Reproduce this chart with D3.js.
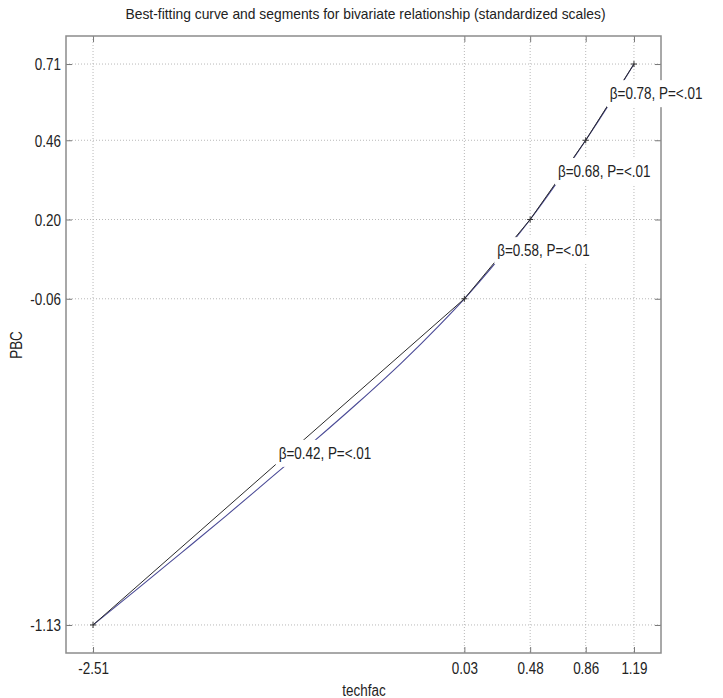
<!DOCTYPE html>
<html>
<head>
<meta charset="utf-8">
<script src="https://d3js.org/d3.v7.min.js"></script>
<style>
  body { margin: 0; background: white; }
  text { font-family: 'Liberation Sans', Arial, sans-serif; fill: #222; }
  .grid line { stroke: #b8b8b8; stroke-dasharray: 1,2; }
</style>
</head>
<body>
<svg id="chart"></svg>
<script>
var width = 723, height = 698;

// segment end points (also the tick values)
var xTicks = [-2.51, 0.03, 0.48, 0.86, 1.19];
var yTicks = [-1.13, -0.06, 0.20, 0.46, 0.71];
// slope labels of each segment
var betas = [0.42, 0.58, 0.68, 0.78];
var pTexts = ["<.01", "<.01", "<.01", "<.01"];
// best-fitting curve
var curveX = [-2.51, -2.2, -1.9, -1.6, -1.3, -1.0, -0.7, -0.4, -0.15, 0.03, 0.25, 0.48, 0.67, 0.86, 1.03, 1.19];
var curveY = [-1.13, -1.009, -0.891, -0.772, -0.650, -0.528, -0.402, -0.270, -0.151, -0.06, 0.062, 0.20, 0.326, 0.46, 0.586, 0.71];

var svg = d3.select("#chart").attr("width", width).attr("height", height);

var pLeft = 66, pRight = 661, pTop = 36, pBottom = 653;
var x = d3.scaleLinear().domain([-2.695, 1.375]).range([pLeft, pRight]);
var y = d3.scaleLinear().domain([-1.222, 0.802]).range([pBottom, pTop]);

// shrink text horizontally like the squeezed original
function squeeze(sel, f) {
  sel.each(function() {
    var len = this.getComputedTextLength();
    d3.select(this).attr("textLength", len * f).attr("lengthAdjust", "spacingAndGlyphs");
  });
}

// dotted grid
var grid = svg.append("g").attr("class", "grid");
grid.selectAll(".gx").data(xTicks).enter().append("line")
  .attr("x1", d => x(d)).attr("x2", d => x(d)).attr("y1", pTop).attr("y2", pBottom);
grid.selectAll(".gy").data(yTicks).enter().append("line")
  .attr("y1", d => y(d)).attr("y2", d => y(d)).attr("x1", pLeft).attr("x2", pRight);

// axes with inward ticks
var fmt = function(d) { return d.toFixed(2); };
var axL = svg.append("g").attr("transform", "translate(" + pLeft + ",0)")
  .call(d3.axisLeft(y).tickValues(yTicks).tickFormat(fmt).tickSize(-6).tickPadding(5));
var axR = svg.append("g").attr("transform", "translate(" + pRight + ",0)")
  .call(d3.axisRight(y).tickValues(yTicks).tickFormat("").tickSize(-6));
var axB = svg.append("g").attr("transform", "translate(0," + pBottom + ")")
  .call(d3.axisBottom(x).tickValues(xTicks).tickFormat(fmt).tickSize(-6).tickPadding(9));
var axT = svg.append("g").attr("transform", "translate(0," + pTop + ")")
  .call(d3.axisTop(x).tickValues(xTicks).tickFormat("").tickSize(-6));
[axL, axR, axB, axT].forEach(function(a) {
  a.select(".domain").remove();
  a.selectAll(".tick line").attr("stroke", "#777");
  a.selectAll("text").attr("font-size", 16).attr("fill", "#222")
    .style("font-family", "'Liberation Sans', Arial, sans-serif");
});
axL.selectAll("text").attr("dy", "0.36em");
axB.selectAll("text").attr("dy", "0.75em");

// box
svg.append("rect").attr("x", pLeft).attr("y", pTop)
  .attr("width", pRight - pLeft).attr("height", pBottom - pTop)
  .attr("fill", "none").attr("stroke", "#8c8c8c").attr("stroke-width", 1.5);

// curve
var curvePts = curveX.map((d, i) => [d, curveY[i]]);
svg.append("path").datum(curvePts)
  .attr("fill", "none").attr("stroke", "#4a4a96").attr("stroke-width", 1.1)
  .attr("d", d3.line().x(d => x(d[0])).y(d => y(d[1])).curve(d3.curveMonotoneX));

// segments
var segPts = xTicks.map((d, i) => [d, yTicks[i]]);
svg.append("path").datum(segPts)
  .attr("fill", "none").attr("stroke", "#2a2a2a").attr("stroke-width", 1)
  .attr("d", d3.line().x(d => x(d[0])).y(d => y(d[1])));

// point markers
svg.selectAll(".mk").data(segPts).enter().append("path")
  .attr("d", d => "M" + (x(d[0]) - 3) + "," + y(d[1]) + "h6M" + x(d[0]) + "," + (y(d[1]) - 3) + "v6")
  .attr("stroke", "#333").attr("stroke-width", 1);

// segment labels with white background
var labs = svg.selectAll(".lab").data(betas).enter().append("g");
labs.each(function(b, i) {
  var g = d3.select(this);
  var mx = x((xTicks[i] + xTicks[i + 1]) / 2);
  var my = y((yTicks[i] + yTicks[i + 1]) / 2) - 3;
  var t = g.append("text").attr("x", mx).attr("y", my).attr("font-size", 16)
    .text("\u03b2=" + b.toFixed(2) + ", P=" + pTexts[i]);
  squeeze(t, 0.84);
  var bb = t.node().getBBox();
  g.insert("rect", "text").attr("x", bb.x - 3).attr("y", bb.y - 5)
    .attr("width", bb.width + 6).attr("height", bb.height + 10).attr("fill", "white");
});

// title and axis labels
var title = svg.append("text").attr("x", (pLeft + pRight) / 2 + 2).attr("y", 19)
  .attr("text-anchor", "middle").attr("font-size", 15)
  .text("Best-fitting curve and segments for bivariate relationship (standardized scales)");
title.attr("textLength", 480).attr("lengthAdjust", "spacingAndGlyphs");

var xl = svg.append("text").attr("x", 364).attr("y", 696).attr("text-anchor", "middle")
  .attr("font-size", 16).text("techfac");
var yl = svg.append("text").attr("transform", "translate(22,345) rotate(-90)")
  .attr("text-anchor", "middle").attr("font-size", 16).text("PBC");

squeeze(axL.selectAll("text"), 0.84);
squeeze(axB.selectAll("text"), 0.84);
squeeze(xl, 0.84);
squeeze(yl, 0.84);
</script>
</body>
</html>
